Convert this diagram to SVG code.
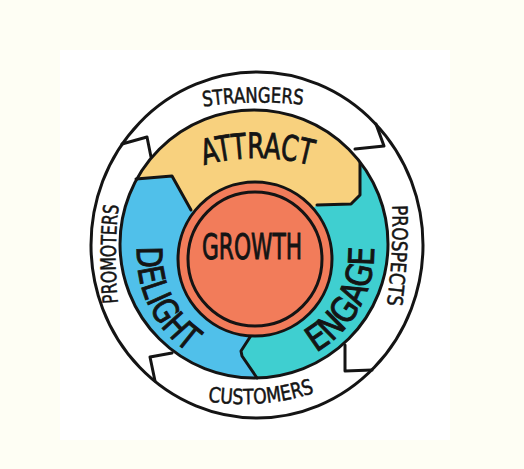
<svg xmlns="http://www.w3.org/2000/svg" width="524" height="469" viewBox="0 0 524 469">
<style>
.ol{stroke:#141414;stroke-width:3;stroke-linejoin:round;stroke-linecap:round}
.ln{fill:none;stroke:#141414;stroke-width:3;stroke-linejoin:round;stroke-linecap:round}
.ring{font-family:"Liberation Sans Narrow","DejaVu Sans Condensed","Liberation Sans",sans-serif;font-size:21px;fill:#141414;stroke:#141414;stroke-width:0.5}
.big{font-family:"Liberation Sans Narrow","DejaVu Sans Condensed","Liberation Sans",sans-serif;font-size:35px;fill:#141414;stroke:#141414;stroke-width:0.9}
</style>
<defs>
<clipPath id="disk"><circle cx="254" cy="244" r="134"/></clipPath>
<path id="pStr" d="M195,108 Q253,98 311,106"/>
<path id="pPros" d="M392,200 Q394,255 386,310"/>
<path id="pCus" d="M200,400 Q262,412 322,390"/>
<path id="pProm" d="M119,312 Q112,254 120,196"/>
<path id="pAtt" d="M198,167 Q258,149 317,167"/>
<path id="pDel" d="M137.3,246.8 A118 118 0 0 0 189,352.8"/>
<path id="pEng" d="M316,352.5 A116 116 0 0 0 373.6,241.9"/>
</defs>
<rect x="0" y="0" width="524" height="469" fill="#fefef4"/>
<rect x="60" y="50" width="390" height="390" fill="#ffffff"/>
<g id="ring">
<ellipse cx="257" cy="245" rx="166" ry="173" fill="#ffffff" class="ol"/>
</g>
<g id="delight">
<circle cx="254" cy="244" r="134" fill="#50c0ea"/>
</g>
<g id="attract">
<path clip-path="url(#disk)" fill="#f8d17e" d="M100,182 L136,179 L172,176 L191,210 L255,259 L317,205 L351,204 L360,195 L360,150 L360,90 L100,90 Z"/>
</g>
<g id="engage">
<path clip-path="url(#disk)" fill="#3fcfd0" d="M255,259 L317,205 L351,204 L360,195 L360,150 L420,150 L420,410 L262,410 L257,379 L242,356 L241,351 L252,334 Z"/>
</g>
<circle cx="254" cy="244" r="134" fill="none" class="ol"/>
<g id="connectors">
<polyline class="ln" points="136,179 172,176 191,210"/>
<polyline class="ln" points="317,205 351,204 360,195 360,163"/>
<polyline class="ln" points="252,334 241,351 242,356 257,378"/>
<polyline class="ln" points="122,144 147,137 151,157"/>
<polyline class="ln" points="376,124 384,146 355,149"/>
<polyline class="ln" points="345,345 345,371 372,370"/>
<polyline class="ln" points="172,353 150,357 155,381"/>
</g>
<g id="growth">
<circle cx="255" cy="259" r="77" fill="#f27c5a" class="ol"/>
<circle cx="255" cy="259" r="67" fill="none" class="ln" stroke-width="2.5"/>
<text class="big" x="252" y="259" text-anchor="middle" textLength="100" lengthAdjust="spacingAndGlyphs">GROWTH</text>
</g>
<g id="attract-label"><text class="big"><textPath href="#pAtt" startOffset="50%" text-anchor="middle" textLength="108" lengthAdjust="spacingAndGlyphs">ATTRACT</textPath></text></g>
<g id="delight-label"><text class="big"><textPath href="#pDel" startOffset="0" textLength="122" lengthAdjust="spacingAndGlyphs">DELIGHT</textPath></text></g>
<g id="engage-label"><text class="big"><textPath href="#pEng" startOffset="0" textLength="126" lengthAdjust="spacingAndGlyphs">ENGAGE</textPath></text></g>
<g id="strangers"><text class="ring"><textPath href="#pStr" startOffset="50%" text-anchor="middle" textLength="100" lengthAdjust="spacingAndGlyphs">STRANGERS</textPath></text></g>
<g id="prospects"><text class="ring"><textPath href="#pPros" startOffset="50%" text-anchor="middle" textLength="100" lengthAdjust="spacingAndGlyphs">PROSPECTS</textPath></text></g>
<g id="customers"><text class="ring" font-size="20"><textPath href="#pCus" startOffset="50%" text-anchor="middle" textLength="108" lengthAdjust="spacingAndGlyphs">CUSTOMERS</textPath></text></g>
<g id="promoters"><text class="ring"><textPath href="#pProm" startOffset="50%" text-anchor="middle" textLength="98" lengthAdjust="spacingAndGlyphs">PROMOTERS</textPath></text></g>
</svg>
